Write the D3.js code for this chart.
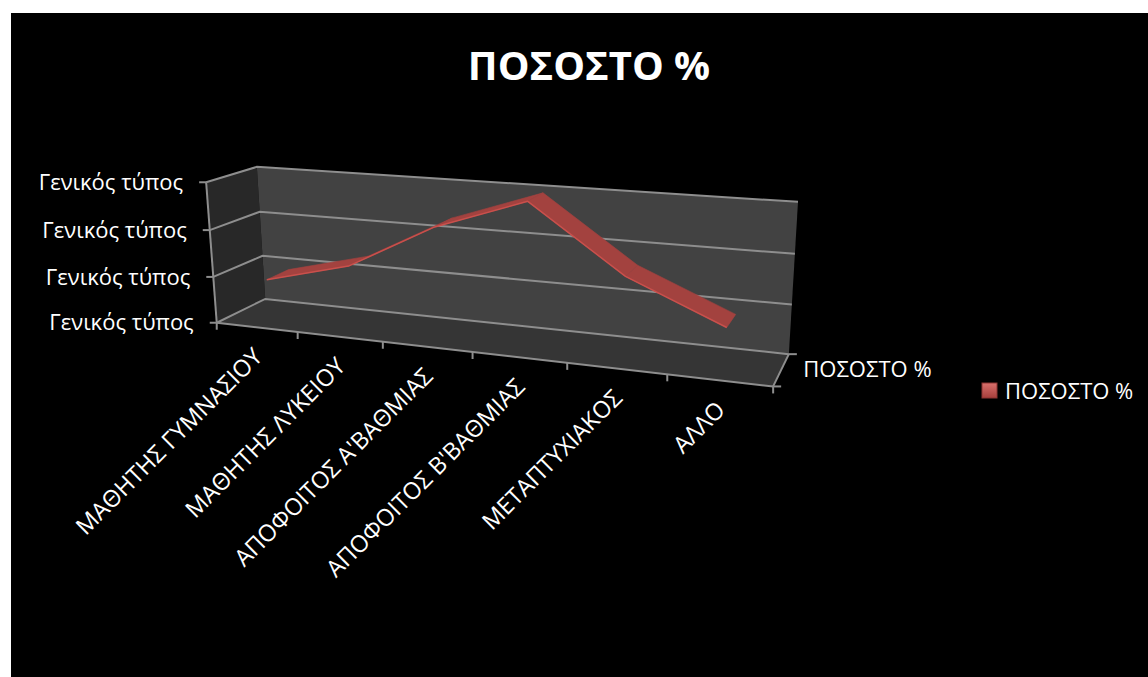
<!DOCTYPE html>
<html>
<head>
<meta charset="utf-8">
<script src="https://cdn.jsdelivr.net/npm/d3@7"></script>
<style>
  html, body { margin: 0; padding: 0; background: #ffffff; }
  svg { display: block; }
  text { font-family: "Open Sans", "Noto Sans", sans-serif; fill: #ffffff; }
</style>
</head>
<body>
<svg id="chart" width="1148" height="677"></svg>
<script>
// ---- data ----
const categories = ["ΜΑΘΗΤΗΣ ΓΥΜΝΑΣΙΟΥ", "ΜΑΘΗΤΗΣ ΛΥΚΕΙΟΥ", "ΑΠΟΦΟΙΤΟΣ Α'ΒΑΘΜΙΑΣ",
                    "ΑΠΟΦΟΙΤΟΣ Β'ΒΑΘΜΙΑΣ", "ΜΕΤΑΠΤΥΧΙΑΚΟΣ", "ΑΛΛΟ"];
const values = [9, 13.6, 23.2, 29.6, 16.6, 8.6];
const valueTicks = [0, 10, 20, 30];
const valueTickLabels = ["Γενικός τύπος", "Γενικός τύπος", "Γενικός τύπος", "Γενικός τύπος"];
const seriesName = "ΠΟΣΟΣΤΟ %";
const chartTitle = "ΠΟΣΟΣΤΟ %";

// ---- layout ----
const W = 1148, H = 677;
// Screen anchors of the plot box corners, box coords [u, v, w]:
// u along the categories, v along the values, w from front (0) to back (1).
const frameAnchors = [
  [[0, 0, 0], [217, 322.5]],
  [[0, 1, 0], [206, 182]],
  [[1, 0, 0], [773, 387]],
  [[0, 0, 1], [265, 299.3]],
  [[0, 1, 1], [257, 167]],
  [[1, 0, 1], [789, 353.5]],
  [[1, 1, 1], [798, 202]]
];
const ribbonDepth = [0.26, 0.72];

// Perspective projection fitted to the anchors (direct linear transform).
function fitProjection(pairs) {
  const n = 11;
  const M = Array.from({length: n}, () => new Array(n + 1).fill(0));
  const addRow = (r, b) => {
    for (let i = 0; i < n; i++) {
      for (let j = 0; j < n; j++) M[i][j] += r[i] * r[j];
      M[i][n] += r[i] * b;
    }
  };
  pairs.forEach(([[X, Y, Z], [x, y]]) => {
    addRow([X, Y, Z, 1, 0, 0, 0, 0, -x * X, -x * Y, -x * Z], x);
    addRow([0, 0, 0, 0, X, Y, Z, 1, -y * X, -y * Y, -y * Z], y);
  });
  for (let c = 0; c < n; c++) {
    let p = c;
    for (let r = c + 1; r < n; r++) if (Math.abs(M[r][c]) > Math.abs(M[p][c])) p = r;
    [M[c], M[p]] = [M[p], M[c]];
    for (let r = 0; r < n; r++) {
      if (r === c) continue;
      const f = M[r][c] / M[c][c];
      for (let j = c; j <= n; j++) M[r][j] -= f * M[c][j];
    }
  }
  const q = M.map((row, i) => row[n] / row[i]);
  return ([X, Y, Z]) => {
    const d = q[8] * X + q[9] * Y + q[10] * Z + 1;
    return [(q[0] * X + q[1] * Y + q[2] * Z + q[3]) / d,
            (q[4] * X + q[5] * Y + q[6] * Z + q[7]) / d];
  };
}
const project = fitProjection(frameAnchors);

// ---- scales ----
const x = d3.scaleBand().domain(categories).range([0, 1]);
const y = d3.scaleLinear().domain([valueTicks[0], valueTicks[valueTicks.length - 1]]).range([0, 1]);
const uCenter = c => x(c) + x.bandwidth() / 2;

const svg = d3.select("#chart");
const poly = pts => "M" + pts.map(p => project(p).join(",")).join("L") + "Z";
const path = pts => "M" + pts.map(p => project(p).join(",")).join("L");

// chart area
svg.append("rect").attr("x", 11).attr("y", 13).attr("width", W - 11).attr("height", H - 13).attr("fill", "#000");

// walls and floor
svg.append("path").attr("d", poly([[0,0,0],[0,1,0],[0,1,1],[0,0,1]])).attr("fill", "#282828");
svg.append("path").attr("d", poly([[0,0,1],[1,0,1],[1,1,1],[0,1,1]])).attr("fill", "#424242");
svg.append("path").attr("d", poly([[0,0,0],[1,0,0],[1,0,1],[0,0,1]])).attr("fill", "#353535");

const gridColor = "#8e8e8e";
// gridlines on side wall and back wall
valueTicks.forEach(t => {
  const v = y(t);
  svg.append("path").attr("d", path([[0,v,0],[0,v,1],[1,v,1]]))
    .attr("fill", "none").attr("stroke", gridColor).attr("stroke-width", 2);
});

// axes
[[[0,0,0],[0,1,0]], [[0,0,0],[1,0,0]], [[1,0,0],[1,0,1]]].forEach(seg => {
  svg.append("path").attr("d", path(seg)).attr("fill", "none")
    .attr("stroke", gridColor).attr("stroke-width", 2);
});

// value axis ticks and labels
valueTicks.forEach((t, i) => {
  const [px, py] = project([0, y(t), 0]);
  svg.append("line").attr("x1", px - 7).attr("x2", px).attr("y1", py).attr("y2", py)
    .attr("stroke", gridColor).attr("stroke-width", 2);
  svg.append("text").attr("x", px - 23).attr("y", py).attr("dy", "0.35em")
    .attr("text-anchor", "end").attr("font-size", 22).text(valueTickLabels[i]);
});

// category axis ticks
d3.range(categories.length + 1).forEach(k => {
  const [px, py] = project([k / categories.length, 0, 0]);
  svg.append("line").attr("x1", px).attr("x2", px).attr("y1", py).attr("y2", py + 7)
    .attr("stroke", gridColor).attr("stroke-width", 2);
});

// category labels, rotated
categories.forEach(c => {
  const [px, py] = project([uCenter(c), 0, 0]);
  const ax = px + 7, ay = py + 31;
  svg.append("text").attr("transform", `translate(${ax},${ay}) rotate(-45)`)
    .attr("text-anchor", "end").attr("font-size", 23.5).text(c);
});

// series (depth) axis ticks and label
[[1,0,0],[1,0,1]].forEach(p => {
  const [px, py] = project(p);
  svg.append("line").attr("x1", px).attr("x2", px + 8).attr("y1", py).attr("y2", py)
    .attr("stroke", gridColor).attr("stroke-width", 2);
});
{
  const [mx, my] = project([1, 0, 0.5]);
  svg.append("text").attr("x", mx + 22).attr("y", my).attr("dy", "0.35em")
    .attr("font-size", 22).text(seriesName);
}

// 3D line ribbon
const pts = categories.map((c, i) => [uCenter(c), y(values[i])]);
const ribbon = svg.append("g");
for (let i = 0; i < pts.length - 1; i++) {
  const [u0, v0] = pts[i], [u1, v1] = pts[i + 1];
  ribbon.append("path")
    .attr("d", poly([[u0, v0, ribbonDepth[0]], [u1, v1, ribbonDepth[0]],
                     [u1, v1, ribbonDepth[1]], [u0, v0, ribbonDepth[1]]]))
    .attr("fill", "#a3423f").attr("stroke", "#a3423f").attr("stroke-width", 0.6);
}
ribbon.append("path")
  .attr("d", path(pts.map(([u, v]) => [u, v, ribbonDepth[0]])))
  .attr("fill", "none").attr("stroke", "#c9504c").attr("stroke-width", 1.5)
  .attr("stroke-linejoin", "round");

// title
svg.append("text").attr("x", 589).attr("y", 80).attr("text-anchor", "middle")
  .attr("font-size", 40).attr("font-weight", "bold").text(chartTitle);

// legend
const grad = svg.append("defs").append("linearGradient").attr("id", "legendFill")
  .attr("x1", 0).attr("y1", 0).attr("x2", 0).attr("y2", 1);
grad.append("stop").attr("offset", 0).attr("stop-color", "#d9706c");
grad.append("stop").attr("offset", 1).attr("stop-color", "#a63f3c");
svg.append("rect").attr("x", 982).attr("y", 383).attr("width", 15).attr("height", 15)
  .attr("fill", "url(#legendFill)").attr("stroke", "#8c3532").attr("stroke-width", 1);
svg.append("text").attr("x", 1005).attr("y", 391).attr("dy", "0.35em")
  .attr("font-size", 22).text(seriesName);
</script>
</body>
</html>
